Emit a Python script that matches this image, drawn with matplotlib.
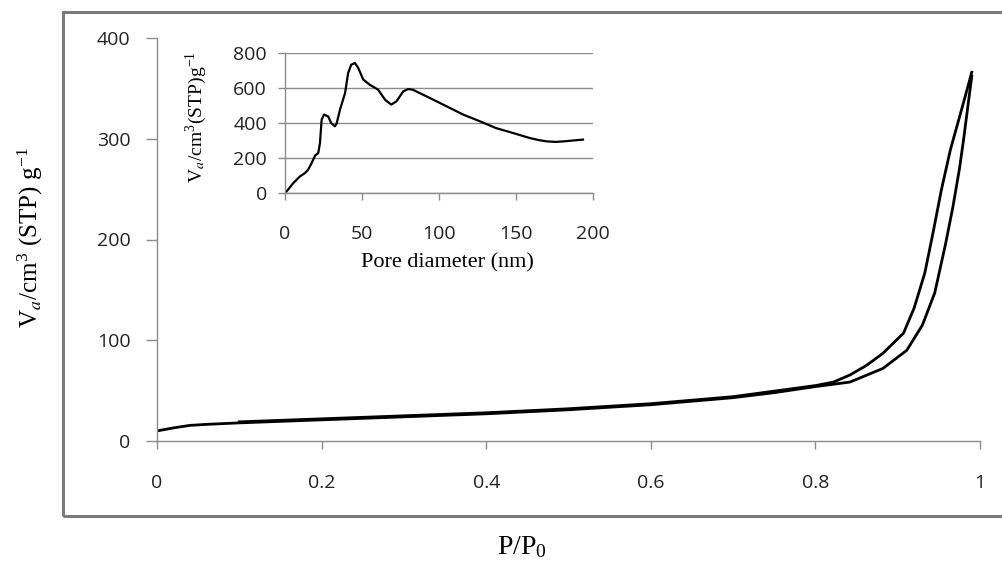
import matplotlib
matplotlib.use('Agg')
import matplotlib.pyplot as plt
from matplotlib.patches import Rectangle

# isotherm, adsorption branch
ads_p = [0.0, 0.02, 0.04, 0.06, 0.1, 0.15, 0.2, 0.3, 0.4, 0.5, 0.6, 0.7, 0.75,
         0.8, 0.842, 0.882, 0.911, 0.93, 0.945, 0.958, 0.967, 0.975, 0.98, 0.99]
ads_v = [10, 13, 15.5, 16.5, 18, 19.5, 21, 24, 27, 31, 36, 43, 48,
         54, 58.5, 72, 90, 115, 147, 195, 232, 270, 299, 362]

# desorption branch
des_p = [0.99, 0.98, 0.964, 0.953, 0.943, 0.933, 0.92, 0.907, 0.882, 0.862,
         0.842, 0.822, 0.8, 0.7, 0.6, 0.5, 0.4, 0.3, 0.2, 0.1]
des_v = [366, 336, 289, 249, 207, 167, 132, 107, 87, 75,
         65.5, 58.5, 55, 44, 37, 32, 28, 25, 22, 19]

# pore size distribution (inset)
pore_d = [1.1, 5.4, 9.7, 13, 15, 17.3, 19.5, 21.6, 22.7, 23.8, 25.3, 28, 30,
          32.4, 33.5, 35.7, 39, 41, 43, 45.4, 47.6, 50.8, 55, 60.5, 65, 69,
          72.4, 76.8, 80, 83, 94, 105, 115.7, 126.5, 137, 148, 159, 165, 170,
          176, 181, 187, 193.5]
pore_v = [9.5, 57, 95, 114, 133, 171, 213, 229, 286, 419, 448, 438, 400,
          381, 396, 476, 571, 686, 733, 743, 714, 648, 619, 590, 533, 505,
          524, 581, 594, 590, 543, 495, 448, 410, 371, 343, 314, 302, 295,
          292, 295, 300, 305]

plt.rcParams['font.family'] = 'Open Sans'
plt.rcParams['mathtext.fontset'] = 'stix'

W, H = 1003, 572
fig = plt.figure(figsize=(W / 100, H / 100), dpi=100)

def rect(l, t, r, b):
    return [l / W, (H - b) / H, (r - l) / W, (b - t) / H]

# outer frame
fig.patches.append(Rectangle((63 / W, (H - 516) / H), 1.2, (516 - 12) / H,
                             transform=fig.transFigure, fill=False,
                             edgecolor='#7a7a7a', linewidth=2.2))

grey = '#8c8c8c'
serif = 'Liberation Serif'
tick_col = '#222222'

ax = fig.add_axes(rect(157, 38, 980, 441))
ax.plot(ads_p, ads_v, color='black', linewidth=2.0, solid_joinstyle='round')
ax.plot(des_p, des_v, color='black', linewidth=2.0, solid_joinstyle='round')
ax.set_xlim(0, 1)
ax.set_ylim(0, 400)
ax.set_xticks([0, 0.2, 0.4, 0.6, 0.8, 1])
ax.set_xticklabels(['0', '0.2', '0.4', '0.6', '0.8', '1'])
ax.set_yticks([0, 100, 200, 300, 400])
for s in ['top', 'right']:
    ax.spines[s].set_visible(False)
for s in ['left', 'bottom']:
    ax.spines[s].set_color(grey)
    ax.spines[s].set_linewidth(1.0)
ax.tick_params(axis='y', direction='out', length=8, width=1.0, color=grey,
               labelsize=14, labelcolor=tick_col, pad=11)
ax.tick_params(axis='x', direction='out', length=6, width=1.0, color=grey,
               labelsize=14, labelcolor=tick_col, pad=18)
fig.text(522 / W, 1 - 548 / H, 'P/P$_\\mathregular{0}$', family=serif, fontsize=20,
         ha='center', va='center')
fig.text(30 / W, 1 - 238 / H, 'V$_a$/cm$^\\mathregular{3}$ (STP) g$^\\mathregular{-1}$',
         family=serif, fontsize=18, rotation=90, ha='center', va='center')

# inset
ins = fig.add_axes(rect(285, 53, 593, 193))
ins.plot(pore_d, pore_v, color='black', linewidth=1.6, solid_joinstyle='round')
ins.set_xlim(0, 200)
ins.set_ylim(0, 800)
ins.set_xticks([0, 50, 100, 150, 200])
ins.set_yticks([0, 200, 400, 600, 800])
ins.grid(axis='y', color=grey, linewidth=1.0)
ins.set_axisbelow(True)
for s in ['top', 'right']:
    ins.spines[s].set_visible(False)
for s in ['left', 'bottom']:
    ins.spines[s].set_color(grey)
    ins.spines[s].set_linewidth(1.0)
ins.tick_params(axis='y', direction='out', length=5, width=1.0, color=grey,
                labelsize=14, labelcolor=tick_col, pad=8)
ins.tick_params(axis='x', direction='out', length=5, width=1.0, color=grey,
                labelsize=14, labelcolor=tick_col, pad=18)
fig.text(447 / W, 1 - 263 / H, 'Pore diameter (nm)', family=serif, fontsize=16,
         ha='center', va='center')
fig.text(196 / W, 1 - 117 / H, 'V$_a$/cm$^\\mathregular{3}$(STP)g$^\\mathregular{-1}$',
         family=serif, fontsize=14, rotation=90, ha='center', va='center')

fig.savefig('out.png', dpi=100)
